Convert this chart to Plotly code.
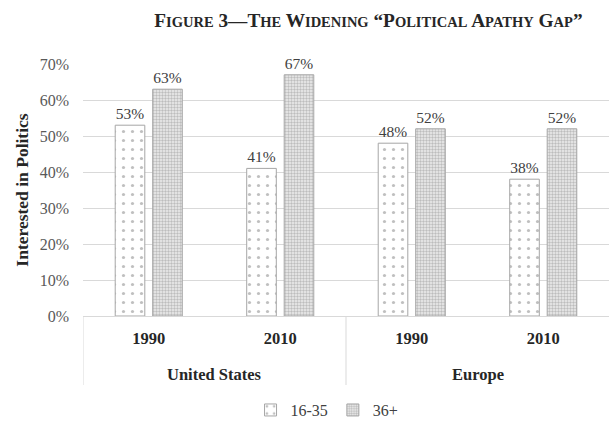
import plotly.graph_objects as go

regions = ["United States", "United States", "Europe", "Europe"]
years = ["1990", "2010", "1990", "2010"]
young = [0.53, 0.41, 0.48, 0.38]
older = [0.63, 0.67, 0.52, 0.52]
series_names = ["16-35", "36+"]
y_ticks = [0, 0.1, 0.2, 0.3, 0.4, 0.5, 0.6, 0.7]
region_names = ["United States", "Europe"]

categories = [f"{r} {y}" for r, y in zip(regions, years)]

FONT = "Liberation Serif"
sc = "<span style='font-size:14.5px'>{}</span>"
title_text = ("F" + sc.format("IGURE") + " 3—T" + sc.format("HE") + " W" + sc.format("IDENING")
              + " “P" + sc.format("OLITICAL") + " A" + sc.format("PATHY") + " G" + sc.format("AP") + "”")

fig = go.Figure()
fig.add_trace(go.Bar(
    x=categories, y=young, name=series_names[0],
    marker=dict(color="white", line=dict(color="#a6a6a6", width=1),
                pattern=dict(shape=".", fgcolor="#7f7f7f", bgcolor="white", size=9, solidity=0.1)),
    texttemplate="%{y:.0%}", textposition="outside", cliponaxis=False,
    textfont=dict(family=FONT, size=15.5, color="#404040"),
))
fig.add_trace(go.Bar(
    x=categories, y=older, name=series_names[1],
    marker=dict(color="#d0d0d0", line=dict(color="#a6a6a6", width=1),
                pattern=dict(shape=".", fgcolor="#8c8c8c", bgcolor="#eeeeee", size=3, solidity=0.5)),
    texttemplate="%{y:.0%}", textposition="outside", cliponaxis=False,
    textfont=dict(family=FONT, size=15.5, color="#404040"),
))

PLOT_H = 421 - 64 - 105
# group dividers at category boundaries, drawn on the x axis scale
n = len(categories)
boundaries = [-0.5] + [i + 0.5 for i in range(n - 1) if regions[i] != regions[i + 1]]
shapes = [dict(type="line", xref="x", yref="paper", x0=b, x1=b, y0=0, y1=-69 / PLOT_H,
               line=dict(color="#d9d9d9", width=1)) for b in boundaries]

# region labels centred under their categories
annotations = []
for rname in region_names:
    idx = [i for i, r in enumerate(regions) if r == rname]
    annotations.append(dict(x=sum(idx) / len(idx), xref="x", y=0, yref="paper",
                            yshift=-58, yanchor="middle", showarrow=False, text=rname,
                            font=dict(family=FONT, size=16.5, color="#262626", weight="bold")))

fig.update_layout(
    width=609, height=421,
    margin=dict(l=83, r=0, t=64, b=105, autoexpand=False),
    paper_bgcolor="white", plot_bgcolor="white",
    barmode="group", bargap=0.43, bargroupgap=0.21,
    font=dict(family=FONT, color="#404040"),
    title=dict(text=title_text, x=0.605, xanchor="center", y=0.952, yanchor="middle",
               font=dict(family=FONT, size=19.3, color="#262626", weight="bold")),
    showlegend=True,
    legend=dict(orientation="h", x=0.537, xref="container", xanchor="center",
                y=0.026, yref="container", yanchor="middle",
                font=dict(family=FONT, size=16, color="#404040"), itemwidth=30,
                traceorder="normal"),
    shapes=shapes,
    annotations=annotations,
    xaxis=dict(type="category", range=[-0.5, n - 0.5], automargin=False,
               showline=True, linecolor="#d9d9d9", linewidth=1,
               tickvals=categories, ticktext=years, ticks="", ticklabelstandoff=7,
               tickfont=dict(family=FONT, size=16.5, color="#262626", weight="bold")),
    yaxis=dict(range=[0, 0.7], tickvals=y_ticks, tickformat=".0%", automargin=False,
               showgrid=True, gridcolor="#d9d9d9", gridwidth=1, zeroline=False,
               ticklabelstandoff=13,
               tickfont=dict(family=FONT, size=16, color="#595959"),
               title=dict(text="Interested in Politics", standoff=6,
                          font=dict(family=FONT, size=17.5, color="#262626", weight="bold"))),
)

fig.write_html("out.html", config={"displayModeBar": False},
               post_script="document.body.style.margin='0';")
